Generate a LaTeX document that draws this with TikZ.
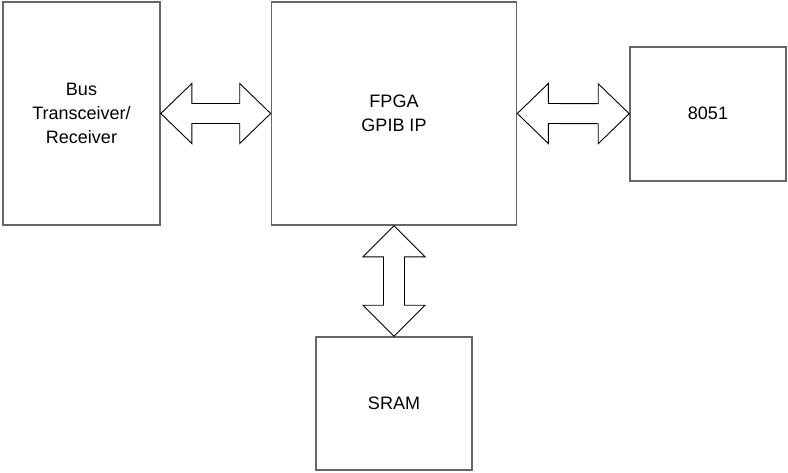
\documentclass[tikz,border=0pt]{standalone}
\usepackage{fontspec}
\setmainfont{Liberation Sans}
\usetikzlibrary{calc}

\tikzset{
  blockbox/.style={draw=black!60, line width=1.6pt, inner sep=0pt,
    font=\fontsize{18}{24}\selectfont, align=center},
  blk/.style={draw=black, line width=0.9pt, line join=miter, fill=white}
}

% horizontal double block arrow between two points at the same height
\newcommand{\hdblarrow}[2]{%
  \draw[blk] (#1) -- ($(#1)+(31,-30)$) -- ($(#1)+(31,-10)$)
    -- ($(#2)+(-31,-10)$) -- ($(#2)+(-31,-30)$) -- (#2)
    -- ($(#2)+(-31,30)$) -- ($(#2)+(-31,10)$)
    -- ($(#1)+(31,10)$) -- ($(#1)+(31,30)$) -- cycle;}

% vertical double block arrow between two points in the same column
\newcommand{\vdblarrow}[2]{%
  \draw[blk] (#1) -- ($(#1)+(31,31)$) -- ($(#1)+(10.5,31)$)
    -- ($(#2)+(10.5,-31)$) -- ($(#2)+(31,-31)$) -- (#2)
    -- ($(#2)+(-31,-31)$) -- ($(#2)+(-10.5,-31)$)
    -- ($(#1)+(-10.5,31)$) -- ($(#1)+(-31,31)$) -- cycle;}

\begin{document}
\begin{tikzpicture}[x=1pt, y=-1pt]
  \useasboundingbox (0,0) rectangle (788,472);

  \node[blockbox, minimum width=157pt, minimum height=223pt] (bus)
    at (81.5,113.5) {Bus\\Transceiver/\\Receiver};
  \node[blockbox, minimum width=245pt, minimum height=223pt] (fpga)
    at (394,113.5) {FPGA\\GPIB IP};
  \node[blockbox, minimum width=156pt, minimum height=134pt] (mcu)
    at (708,113.7) {8051};
  \node[blockbox, minimum width=156pt, minimum height=133pt] (sram)
    at (394,403.5) {SRAM};

  \hdblarrow{bus.east}{fpga.west}
  \hdblarrow{fpga.east}{mcu.west}
  \vdblarrow{fpga.south}{sram.north}
\end{tikzpicture}
\end{document}
